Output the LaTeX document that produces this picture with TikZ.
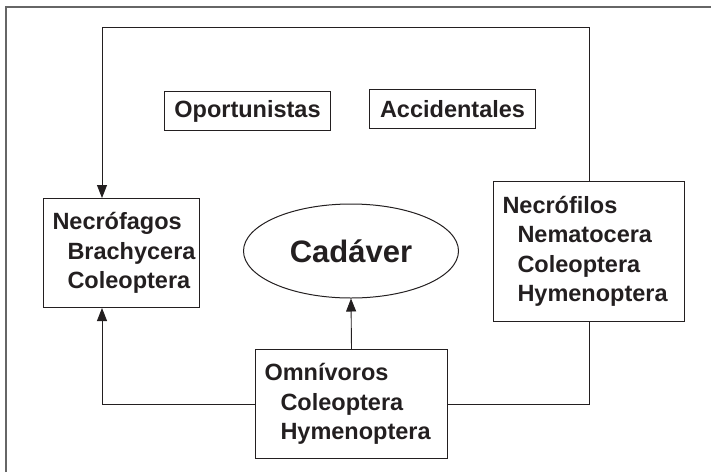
\documentclass[tikz,border=0pt]{standalone}
\usepackage{fontspec}
\setmainfont{Liberation Sans}
\usetikzlibrary{arrows.meta,shapes.geometric}
\definecolor{ink}{HTML}{231F20}
\hyphenpenalty=10000
\exhyphenpenalty=10000
\hbadness=10000
\hfuzz=50pt
\tikzset{
  box/.style={draw=ink, line width=1pt, rectangle, inner ysep=0pt, text=ink,
    font=\fontsize{23.5}{29.5}\selectfont\bfseries},
  lbox/.style={box, align=left, inner xsep=9pt, anchor=north west},
  sbox/.style={box, inner sep=0pt, anchor=north west, minimum width=166pt, minimum height=39pt},
  conn/.style={draw=ink, line width=0.9pt},
  arr/.style={conn, -{Triangle[length=13pt,width=10pt]}}
}
\begin{document}
\begin{tikzpicture}[x=1pt,y=-1pt]
\useasboundingbox (0,0) rectangle (711,472);
\draw[black!60, line width=1.4pt] (6,472) -- (6,7) -- (711,7);

\node[sbox] (opor) at (164,91) {Oportunistas};
\node[sbox] (acci) at (369,89) {Accidentales};

\node[lbox, text width=138pt, minimum height=109pt] (necrofagos) at (43,198)
  {Necrófagos\\\hspace*{15pt}Brachycera\\\hspace*{15pt}Coleoptera};

\node[lbox, text width=173pt, minimum height=140pt] (necrofilos) at (493,181)
  {Necrófilos\\\hspace*{15pt}Nematocera\\\hspace*{15pt}Coleoptera\\\hspace*{15pt}Hymenoptera};

\node[lbox, text width=174pt, minimum height=109pt] (omni) at (255,349)
  {Omnívoros\\\hspace*{16pt}Coleoptera\\\hspace*{16pt}Hymenoptera};

\node[draw=ink, line width=1pt, ellipse, inner sep=0pt, minimum width=215pt,
  minimum height=94pt, text=ink, font=\fontsize{31}{36}\selectfont\bfseries] (cad) at (351,251) {Cadáver};

\coordinate (tl) at (102,27);

\draw[arr] (necrofilos.north) -- (necrofilos.north |- tl) -- (tl) -- (tl |- necrofagos.north);
\draw[arr] (omni.west) -| (tl |- necrofagos.south);
\draw[conn] (omni.east) -| (necrofilos.south);
\draw[arr] (omni.north) -- (cad.south);
\end{tikzpicture}
\end{document}
